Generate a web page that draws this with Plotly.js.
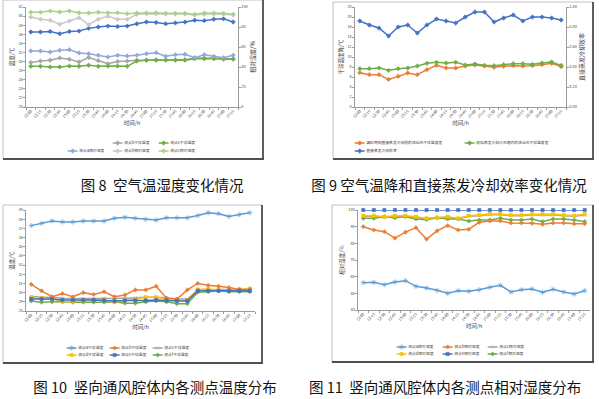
<!DOCTYPE html>
<html><head><meta charset="utf-8">
<script src="https://cdn.plot.ly/plotly-3.0.1.min.js"></script>
<style>
html,body{margin:0;padding:0;background:#fff;overflow:hidden;width:599px;height:399px}
#wrap{width:599px;height:399px;overflow:hidden;position:relative}
#chart{width:1797px;height:1197px;transform:scale(0.33333333);transform-origin:0 0;}
</style></head><body><div id="wrap"><div id="chart"></div></div>
<script>
// ---- data ----
const times = ['12:00','12:15','12:30','12:45','13:00','13:15','13:30','13:45','14:00','14:15','14:30','14:45','15:00','15:15','15:30','15:45','16:00','16:15','16:30','16:45','17:00','17:15'];

// Fig 8
const f8_aDry = [36.5,36.5,36.6,36.1,36.6,36.7,37.3,37.6,37.8,37.7,37.8,38.3,38.7,38.6,38.3,38.5,38.7,39.1,39.0,39.3,39.4,38.7];
const f8_bDry = [29.8,30.1,30.3,30.8,30.5,29.9,30.9,30.2,29.5,30.0,30.1,30.3,30.3,30.4,30.4,30.4,30.4,30.8,30.8,30.8,30.6,30.6];
const f8_cDry = [28.95,28.95,28.8,28.8,29.0,28.95,29.2,28.95,29.0,29.0,28.95,30.1,30.3,30.3,30.3,30.3,30.3,30.6,30.6,30.6,30.5,30.5];
const f8_aRH = [56.0,56.0,55.0,56.7,57.3,54.0,53.3,51.7,50.0,51.7,51.0,51.7,53.3,54.3,50.7,52.3,52.7,49.3,52.3,50.7,49.3,51.7];
const f8_bRH = [90.0,87.7,86.7,82.7,86.0,89.3,82.3,87.7,90.7,87.7,87.7,92.7,93.3,93.3,93.0,93.0,93.0,92.0,92.7,92.7,92.7,92.0];
const f8_cRH = [94.7,94.7,96.0,95.0,96.0,94.3,94.0,94.7,94.3,94.3,93.3,94.0,94.0,94.3,93.7,93.7,93.7,92.7,94.0,94.0,93.7,92.7];
const f8_names = ['测点a干球温度','测点b干球温度','测点c干球温度','测点a相对湿度','测点b相对湿度','测点c相对湿度'];

// Fig 9
const f9_pad = [6.87,6.47,6.47,5.53,6.13,6.8,6.47,7.47,8.33,7.8,7.8,8.2,8.4,8.2,7.93,8.13,8.27,8.2,8.27,8.47,8.73,8.07];
const f9_tower = [7.67,7.67,7.8,7.33,7.67,7.8,8.2,8.73,8.93,8.8,8.93,8.4,8.6,8.33,8.27,8.47,8.67,8.67,8.53,8.8,9.0,8.33];
const f9_eff = [0.86,0.82,0.79,0.71,0.80,0.82,0.74,0.82,0.88,0.86,0.84,0.90,0.95,0.95,0.85,0.89,0.92,0.86,0.90,0.90,0.89,0.87];
const f9_names = ['填料两侧直接蒸发冷却段的进出风干球温度差','模拟蒸发冷却冷风塔内的进出风干球温度差','直接蒸发冷却效率'];

// Fig 10
const f10_a = [37.3,37.55,37.8,37.7,37.7,37.8,37.8,37.8,38.1,38.2,38.1,38.0,37.9,38.15,38.15,38.15,38.4,38.7,38.6,38.3,38.5,38.7];
const f10_b = [30.9,30.2,29.55,29.9,29.55,30.0,29.8,30.1,29.55,29.75,30.3,30.3,30.7,29.4,29.3,30.3,31.0,30.8,30.7,30.55,30.35,30.35];
const f10_c = [29.6,29.5,29.5,29.4,29.35,29.35,29.35,29.4,29.35,29.4,29.45,29.5,29.5,29.45,29.3,29.3,30.3,30.3,30.35,30.35,30.35,30.35];
const f10_d = [29.45,29.4,29.3,29.1,29.0,29.15,29.2,29.2,28.95,29.15,29.3,29.5,29.5,29.3,29.2,29.2,30.35,30.4,30.3,30.3,30.35,30.45];
const f10_e = [29.3,29.3,29.3,29.2,29.2,29.2,29.2,29.15,29.1,29.15,29.15,29.15,29.2,29.15,29.1,29.1,30.2,30.2,30.2,30.2,30.2,30.2];
const f10_f = [29.1,28.95,29.0,29.0,28.95,28.95,28.95,28.95,29.0,28.85,28.85,29.0,29.1,29.0,28.8,28.8,30.05,30.1,30.2,30.1,30.1,30.1];
const f10_names = ['测点a干球温度','测点b干球温度','测点c干球温度','测点d干球温度','测点e干球温度','测点f干球温度'];

// Fig 11
const f11_a = [56.4,56.6,55.2,56.8,57.6,54.2,53.2,51.8,50.0,51.6,51.2,52.2,53.6,54.8,50.8,52.2,52.6,50.6,52.4,50.8,49.6,51.6];
const f11_b = [90.0,88.0,87.0,83.1,86.7,89.4,82.5,87.5,90.6,88.0,88.4,92.6,93.4,93.4,92.2,92.2,92.0,91.4,92.2,92.2,91.8,91.8];
const f11_c = [96.2,96.2,95.8,96.2,96.2,95.6,94.8,95.2,95.6,94.8,96.2,96.6,97.2,97.2,96.6,96.6,97.0,97.0,97.0,96.6,96.2,97.0];
const f11_d = [96.6,96.6,96.0,96.6,96.6,96.0,95.0,95.4,96.0,95.0,96.6,97.0,97.6,97.6,97.0,97.0,97.4,97.4,97.4,97.0,96.6,97.4];
const f11_e = [100,100,100,100,100,100,100,100,100,100,100,100,100,100,100,100,100,100,100,100,100,100];
const f11_f = [95.0,95.0,96.0,95.4,96.0,94.6,94.2,95.4,94.6,94.6,93.4,94.0,94.0,95.0,94.0,94.0,94.6,93.0,94.6,94.6,94.0,93.0];
const f11_names = ['测点a相对湿度','测点b相对湿度','测点c相对湿度','测点d相对湿度','测点e相对湿度','测点f相对湿度'];

const captions = ['图 8  空气温湿度变化情况','图 9 空气温降和直接蒸发冷却效率变化情况','图 10  竖向通风腔体内各测点温度分布','图 11  竖向通风腔体内各测点相对湿度分布'];

// ---- helpers (real px -> scaled) ----
const S = 3, W = 599, H = 399;
const FONT = "'Noto Sans CJK SC','Noto Sans',sans-serif";
const fx = p => p / W, fy = p => 1 - p / H;
const AX = '#595959', TXT = '#404040';

function xax(l, r, anchor) {
  return {domain:[fx(l), fx(r)], anchor, type:'category', range:[-0.5, times.length-0.5],
    tickson:'boundaries', ticks:'outside', ticklen:2*S, tickwidth:0.6*S, tickcolor:AX,
    showline:true, linecolor:AX, linewidth:0.6*S, showgrid:false, zeroline:false,
    tickangle:-45, tickfont:{size:3.8*S, color:TXT, family:FONT},
    title:{text:'时间/h', font:{size:5.5*S, color:TXT, family:FONT}, standoff:2*S},
    automargin:false, fixedrange:true};
}
function yax(top, bot, anchor, range, dtick, title, extra) {
  return Object.assign({domain:[fy(bot), fy(top)], anchor, range, dtick, tick0:range[0],
    ticks:'outside', ticklen:2*S, tickwidth:0.6*S, tickcolor:AX,
    showline:true, linecolor:AX, linewidth:0.6*S, showgrid:false, zeroline:false,
    tickfont:{size:3.8*S, color:TXT, family:FONT},
    title:{text:title, font:{size:5.5*S, color:TXT, family:FONT}, standoff:3*S},
    automargin:false, fixedrange:true}, extra||{});
}

const legends = {}; let li = 0;
function leg(xpx, ypx) {
  li++; const id = li === 1 ? 'legend' : 'legend' + li;
  legends[id] = {x:fx(xpx), y:fy(ypx), xanchor:'left', yanchor:'middle', orientation:'h',
    bgcolor:'rgba(0,0,0,0)', borderwidth:0, itemwidth:30, tracegroupgap:0,
    font:{size:3.8*S, color:TXT, family:FONT}};
  return id;
}
function tr(xa, ya, y, name, color, sym, lg, msize) {
  return {type:'scatter', mode:'lines+markers', x:times, y, xaxis:xa, yaxis:ya, name,
    legend:lg, cliponaxis:false,
    line:{color, width:1.5*S},
    marker:{color, symbol:sym, size:(msize||3.4)*S, line:{color, width:0.6*S}}};
}

const traces = [];
// Fig 8
const c8 = ['#4472C4','#A5A5A5','#70AD47','#8FAADC','#C9C9C9','#A9D18E'];
const d8 = [f8_aDry,f8_bDry,f8_cDry,f8_aRH,f8_bRH,f8_cRH];
const p8 = [[66,143],[111,143],[157,143],[66,151],[111,151],[157,151]];
for (let i=0;i<6;i++) traces.push(tr('x', i<3?'y':'y2', d8[i], f8_names[i], c8[i], 'diamond', leg(p8[i][0], p8[i][1])));
// Fig 9
traces.push(tr('x2','y3', f9_pad, f9_names[0], '#ED7D31', 'diamond', leg(353,143)));
traces.push(tr('x2','y3', f9_tower, f9_names[1], '#70AD47', 'diamond', leg(463,143)));
traces.push(tr('x2','y4', f9_eff, f9_names[2], '#4472C4', 'diamond', leg(353,151)));
// Fig 10
const c10 = ['#5B9BD5','#ED7D31','#A5A5A5','#FFC000','#4472C4','#70AD47'];
const s10 = ['asterisk-open','diamond','x-thin-open','square','square','diamond'];
const d10 = [f10_a,f10_b,f10_c,f10_d,f10_e,f10_f];
const p10 = [[65,348],[108,348],[151,348],[65,355],[108,355],[151,355]];
const tmp10 = [];
for (let i=0;i<6;i++) tmp10.push(tr('x3','y5', d10[i], f10_names[i], c10[i], s10[i], leg(p10[i][0], p10[i][1]), i===0?4.5:3.2));
// Fig 11
const d11 = [f11_a,f11_b,f11_c,f11_d,f11_e,f11_f];
const p11 = [[395,347],[441,347],[486,347],[395,354],[441,354],[486,354]];
const tmp11 = [];
for (let i=0;i<6;i++) tmp11.push(tr('x4','y6', d11[i], f11_names[i], c10[i], s10[i], leg(p11[i][0], p11[i][1]), i===0?4.5:3.2));
// draw order (gray hidden beneath others) while legend slots stay fixed
[2,5,3,1,4,0].forEach(i => traces.push(tmp10[i]));
[2,5,3,1,4,0].forEach(i => traces.push(tmp11[i]));

// frames
const frames = [[3,0,263,159],[333,2,593,159],[3,205,262,363],[332,205,593,362]];
const shapes = [];
frames.forEach(f => {
  shapes.push({type:'rect', xref:'paper', yref:'paper', x0:fx(f[0]), x1:fx(f[2]), y0:fy(f[3]), y1:fy(f[1]), line:{color:'#B0B0B0', width:0.8*S}});
  shapes.push({type:'line', xref:'paper', yref:'paper', x0:fx(f[0]), x1:fx(f[2]+1), y0:fy(f[3]), y1:fy(f[3]), line:{color:'#505050', width:1.8*S}});
  shapes.push({type:'line', xref:'paper', yref:'paper', x0:fx(f[2]), x1:fx(f[2]), y0:fy(f[1]), y1:fy(f[3]), line:{color:'#505050', width:1.8*S}});
});

const capPos = [[162,185],[449,185],[155,387],[445,387]];
const annotations = captions.map((t,i) => ({text:t, xref:'paper', yref:'paper', x:fx(capPos[i][0]), y:fy(capPos[i][1]),
  xanchor:'center', yanchor:'middle', showarrow:false, font:{size:14.5*S, color:'#111', family:FONT}}));

const layout = Object.assign({
  width:W*S, height:H*S, margin:{l:0,r:0,t:0,b:0}, autosize:false,
  paper_bgcolor:'#fff', plot_bgcolor:'#fff', font:{family:FONT}, hovermode:false,
  xaxis: xax(26, 238, 'y'),
  yaxis: yax(7, 107, 'x', [20,42], 2, '温度/℃'),
  yaxis2: yax(7, 107, 'x', [0,100], 20, '相对湿度/%', {overlaying:'y', side:'right', title:{text:'相对湿度/%', font:{size:6*S,color:TXT,family:FONT}, standoff:3*S}}),
  xaxis2: xax(355, 566, 'y3'),
  yaxis3: yax(7, 107, 'x2', [0,20], 2, '干球温度降/℃'),
  yaxis4: yax(7, 107, 'x2', [0,1], 0.2, '直接蒸发冷却效率', {overlaying:'y3', side:'right', tickformat:'.2f', title:{text:'直接蒸发冷却效率', font:{size:6*S,color:TXT,family:FONT}, standoff:3*S}}),
  xaxis3: xax(26, 255, 'y5'),
  yaxis5: yax(210, 311, 'x3', [28,39], 1, '温度/℃'),
  xaxis4: xax(358, 590, 'y6'),
  yaxis6: yax(210, 310, 'x4', [40,100], 10, '相对湿度/%'),
  shapes, annotations
}, legends);

Plotly.newPlot('chart', traces, layout, {staticPlot:true, displayModeBar:false});
</script></body></html>
